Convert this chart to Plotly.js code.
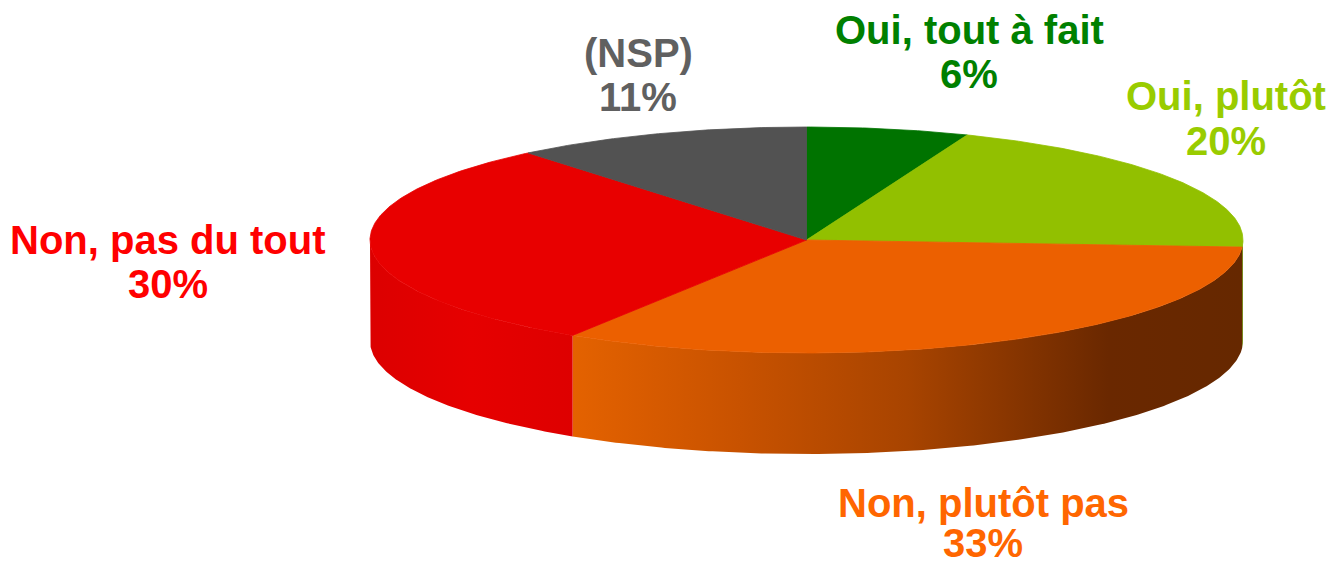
<!DOCTYPE html>
<html>
<head>
<meta charset="utf-8">
<script src="https://cdn.plot.ly/plotly-3.0.1.min.js"></script>
<style>html,body{margin:0;padding:0;background:#fff;}#chart{width:1333px;height:568px;}</style>
</head>
<body>
<div id="chart"></div>
<script>
// ---- data ----
const labels = ["Oui, tout à fait", "Oui, plutôt", "Non, plutôt pas", "Non, pas du tout", "(NSP)"];
const values = [6, 20, 33, 30, 11];

// ---- styles ----
const topColors = ["#007300", "#92C000", "#EC6000", "#E80000", "#525252"];
const sideScales = [
  [[0, "#005800"], [1, "#005800"]],
  [[0, "#6E8F00"], [1, "#5E7A00"]],
  [[0, "#E46200"], [0.25, "#C85200"], [0.5, "#A84400"], [0.8, "#6A2800"], [1, "#662800"]],
  [[0, "#DC0000"], [0.5, "#E60000"], [1, "#DE0000"]],
  [[0, "#404040"], [1, "#404040"]]
];
const textColors = ["#008000", "#99CC00", "#FF6600", "#FF0000", "#606060"];
// label centres (pixel coordinates of layout), line 1 and line 2
const labelPos = [
  {x: 969, y1: 30, y2: 74},
  {x: 1226, y1: 96, y2: 141},
  {x: 983, y1: 503, y2: 543},
  {x: 168, y1: 240, y2: 284},
  {x: 638, y1: 53, y2: 97}
];

// ---- geometry of the tilted pie (pixel space) ----
const cx = 806.5, cy = 240, rx = 436.5, ry = 113, depth = 101;
const rad = d => d * Math.PI / 180;
const px = a => cx + rx * Math.sin(rad(a));
const py = (a, dz) => cy - ry * Math.cos(rad(a)) + (dz || 0);

const total = values.reduce((s, v) => s + v, 0);
const traces = [];
const tops = [];
let cum = 0;
values.forEach((v, i) => {
  const a0 = cum / total * 360;
  const a1 = (cum + v) / total * 360;
  cum += v;
  // side wall (only front half visible: 90..270 degrees)
  const s0 = Math.max(a0, 90), s1 = Math.min(a1, 270);
  if (s1 > s0) {
    const xs = [], ys = [];
    const n = Math.max(4, Math.ceil((s1 - s0) * 2));
    for (let k = 0; k <= n; k++) { const a = s0 + (s1 - s0) * k / n; xs.push(px(a)); ys.push(py(a)); }
    for (let k = n; k >= 0; k--) { const a = s0 + (s1 - s0) * k / n; xs.push(px(a)); ys.push(py(a, depth)); }
    xs.push(xs[0]); ys.push(ys[0]);
    traces.push({
      type: "scatter", mode: "lines", x: xs, y: ys, fill: "toself",
      fillgradient: {type: "horizontal", colorscale: sideScales[i]},
      line: {width: 0}, hoverinfo: "skip", showlegend: false
    });
  }
  // top face
  const xs = [cx], ys = [cy];
  const n = Math.max(4, Math.ceil((a1 - a0) * 2));
  for (let k = 0; k <= n; k++) { const a = a0 + (a1 - a0) * k / n; xs.push(px(a)); ys.push(py(a)); }
  xs.push(cx); ys.push(cy);
  tops.push({
    type: "scatter", mode: "lines", x: xs, y: ys, fill: "toself",
    fillcolor: topColors[i], line: {width: 0.8, color: topColors[i]},
    hoverinfo: "skip", showlegend: false
  });
});

const annotations = [];
labels.forEach((lab, i) => {
  const f = {family: "Liberation Sans, Arial, sans-serif", size: 40, color: textColors[i], weight: 700};
  annotations.push({x: labelPos[i].x, y: labelPos[i].y1, xref: "x", yref: "y", text: lab,
    showarrow: false, xanchor: "center", yanchor: "middle", font: f});
  annotations.push({x: labelPos[i].x, y: labelPos[i].y2, xref: "x", yref: "y", text: values[i] + "%",
    showarrow: false, xanchor: "center", yanchor: "middle", font: f});
});

const layout = {
  width: 1333, height: 568,
  margin: {l: 0, r: 0, t: 0, b: 0, pad: 0},
  paper_bgcolor: "#ffffff", plot_bgcolor: "#ffffff",
  xaxis: {range: [0, 1333], visible: false, fixedrange: true},
  yaxis: {range: [568, 0], visible: false, fixedrange: true},
  showlegend: false,
  annotations: annotations
};

Plotly.newPlot("chart", traces.concat(tops), layout, {displayModeBar: false, staticPlot: true});
</script>
</body>
</html>
